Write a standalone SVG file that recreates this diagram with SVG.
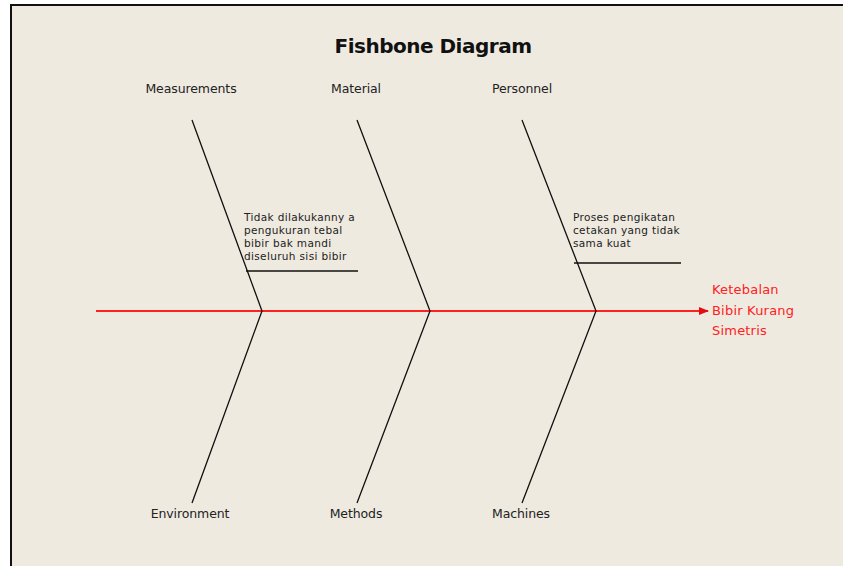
<svg xmlns="http://www.w3.org/2000/svg" width="843" height="566" viewBox="0 0 843 566">
<style>
.lbl{font-family:"DejaVu Sans","Liberation Sans",sans-serif;font-size:12.5px;fill:#222;text-anchor:middle;letter-spacing:-0.1px}
.note{font-family:"DejaVu Sans","Liberation Sans",sans-serif;font-size:10.5px;fill:#222;letter-spacing:0.35px}
.bone{stroke:#111;stroke-width:1.3;fill:none}
.eff{font-family:"DejaVu Sans","Liberation Sans",sans-serif;font-size:13px;fill:#ff2020;letter-spacing:0.2px}
</style>
<defs>
<marker id="ah" markerWidth="10" markerHeight="8" refX="9" refY="4" orient="auto" markerUnits="userSpaceOnUse">
<path d="M0,0 L10,4 L0,8 Z" fill="#e01010"/>
</marker>
</defs>
<rect x="0" y="0" width="843" height="566" fill="#ffffff"/>
<rect x="11" y="5" width="840" height="570" fill="#efeae0" stroke="#111" stroke-width="2"/>
<text x="433" y="53" font-family="DejaVu Sans, Liberation Sans, sans-serif" font-size="20" font-weight="bold" text-anchor="middle" fill="#111" letter-spacing="-0.5">Fishbone Diagram</text>
<g id="connectors">
<line x1="96" y1="311" x2="708" y2="311" stroke="#ff2020" stroke-width="2" marker-end="url(#ah)"/>
<polyline class="bone" points="192,120 262,311 192,503"/>
<polyline class="bone" points="357,120 430,311 357,503"/>
<polyline class="bone" points="522,120 596,311 522,503"/>
<line class="bone" x1="246" y1="271" x2="358" y2="271"/>
<line class="bone" x1="574" y1="263" x2="681" y2="263"/>
</g>
<g id="measurements"><text class="lbl" x="191" y="93">Measurements</text></g>
<g id="material"><text class="lbl" x="356" y="93">Material</text></g>
<g id="personnel"><text class="lbl" x="522" y="93">Personnel</text></g>
<g id="environment"><text class="lbl" x="190" y="518">Environment</text></g>
<g id="methods"><text class="lbl" x="356" y="518">Methods</text></g>
<g id="machines"><text class="lbl" x="521" y="518">Machines</text></g>
<g id="cause-measurements">
<text class="note" x="244" y="221">Tidak dilakukanny a</text>
<text class="note" x="244" y="234">pengukuran tebal</text>
<text class="note" x="244" y="247">bibir bak mandi</text>
<text class="note" x="244" y="260">diseluruh sisi bibir</text>
</g>
<g id="cause-personnel">
<text class="note" x="573" y="221">Proses pengikatan</text>
<text class="note" x="573" y="234">cetakan yang tidak</text>
<text class="note" x="573" y="247">sama kuat</text>
</g>
<g id="effect">
<text class="eff" x="712" y="294">Ketebalan</text>
<text class="eff" x="712" y="315">Bibir Kurang</text>
<text class="eff" x="712" y="335">Simetris</text>
</g>
</svg>
